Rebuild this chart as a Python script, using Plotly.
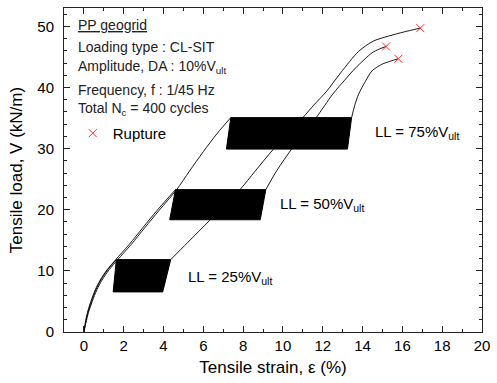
import plotly.graph_objects as go

# ---- Monotonic loading up to the cyclic stage (strain %, load kN/m) ----
strain_ll25_pre = [0, 0.08, 0.2, 0.38, 0.6, 0.85, 1.2, 1.63]
load_ll25_pre = [0, 1.5, 3.2, 5.0, 6.9, 8.5, 10.2, 11.84]

strain_ll50_pre = [0, 0.07, 0.18, 0.35, 0.57, 0.82, 1.17, 1.6, 2.27, 2.97, 3.68, 4.6]
load_ll50_pre = [0, 1.5, 3.2, 5.0, 6.9, 8.5, 10.2, 11.84, 14.3, 17.1, 19.9, 23.29]

strain_ll75_pre = [0, 0.1, 0.23, 0.42, 0.65, 0.91, 1.27, 1.7, 2.37, 3.07, 3.78, 4.66, 5.3, 6.0, 6.7, 7.38]
load_ll75_pre = [0, 1.5, 3.2, 5.0, 6.9, 8.5, 10.2, 11.84, 14.3, 17.1, 19.9, 23.29, 26.3, 29.5, 32.5, 35.07]

# ---- Cyclic loading envelopes (400 cycles), corners of each band ----
strain_ll25_cyc = [1.47, 1.63, 4.36, 3.96, 1.47]
load_ll25_cyc = [6.56, 11.84, 11.84, 6.56, 6.56]

strain_ll50_cyc = [4.31, 4.6, 9.14, 8.86, 4.31]
load_ll50_cyc = [18.36, 23.29, 23.29, 18.36, 18.36]

strain_ll75_cyc = [7.16, 7.38, 13.45, 13.24, 7.16]
load_ll75_cyc = [29.92, 35.07, 35.07, 29.92, 29.92]

# ---- Monotonic reloading after cycling, up to rupture ----
strain_ll25_post = [4.36, 5.2, 6.3, 7.1, 7.87, 8.6, 9.52, 10.3, 11.0, 11.6, 12.2, 12.9,
                    13.8, 14.55, 15.3, 16.1, 16.9]
load_ll25_post = [11.84, 14.6, 18.2, 20.9, 23.4, 26.3, 29.9, 32.6, 35.07, 37.3, 39.4, 42.4,
                  45.9, 47.6, 48.4, 49.1, 49.7]

strain_ll50_post = [9.14, 9.69, 10.43, 11.05, 11.67, 12.5, 13.1, 13.65, 14.47, 14.85, 15.18]
load_ll50_post = [23.29, 26.4, 29.9, 32.5, 35.07, 38.9, 41.2, 43.2, 45.65, 46.3, 46.7]

strain_ll75_post = [13.45, 13.6, 13.8, 14.14, 14.47, 14.97, 15.4, 15.8]
load_ll75_post = [35.07, 37.0, 38.9, 41.0, 42.7, 43.8, 44.3, 44.7]

# ---- Rupture points ----
strain_rupture = [16.9, 15.18, 15.8]
load_rupture = [49.7, 46.7, 44.7]

FONT = "Arial, Liberation Sans, Helvetica, sans-serif"
LINE = dict(color="black", width=0.9, shape="spline", smoothing=0.8)

fig = go.Figure()

for xs, ys in [(strain_ll25_pre, load_ll25_pre), (strain_ll50_pre, load_ll50_pre),
               (strain_ll75_pre, load_ll75_pre), (strain_ll25_post, load_ll25_post),
               (strain_ll50_post, load_ll50_post), (strain_ll75_post, load_ll75_post)]:
    fig.add_trace(go.Scatter(x=xs, y=ys, mode="lines", line=LINE,
                             showlegend=False, hoverinfo="skip"))

for xs, ys in [(strain_ll25_cyc, load_ll25_cyc), (strain_ll50_cyc, load_ll50_cyc),
               (strain_ll75_cyc, load_ll75_cyc)]:
    fig.add_trace(go.Scatter(x=xs, y=ys, mode="lines", fill="toself",
                             fillcolor="black", line=dict(color="black", width=1),
                             showlegend=False, hoverinfo="skip"))

fig.add_trace(go.Scatter(
    x=strain_rupture, y=load_rupture, mode="markers", name="Rupture",
    marker=dict(symbol="x-thin-open", size=8, color="#ff2a2a",
                line=dict(color="#ff2a2a", width=1)),
))

axis_common = dict(
    showline=True, linecolor="#222", linewidth=1, mirror="allticks",
    ticks="inside", ticklen=6, tickwidth=1, tickcolor="#222",
    showgrid=False, zeroline=False,
    tickfont=dict(family=FONT, size=15, color="black"),
)

fig.update_xaxes(
    range=[-1, 20], tick0=0, dtick=2,
    minor=dict(dtick=1, tick0=0, ticks="inside", ticklen=3, tickcolor="#222"),
    title=dict(text="Tensile strain, ε (%)", font=dict(family=FONT, size=17, color="black"),
               standoff=8),
    **axis_common,
)
fig.update_yaxes(
    range=[0, 53], tick0=0, dtick=10,
    minor=dict(dtick=2, tick0=0, ticks="inside", ticklen=3, tickcolor="#222"),
    title=dict(text="Tensile load, V (kN/m)", font=dict(family=FONT, size=17, color="black"),
               standoff=10),
    ticklabelstandoff=6,
    **axis_common,
)

notes = [
    ("<u>PP geogrid</u>", 50.3),
    ("Loading type : CL-SIT", 46.7),
    ("Amplitude, DA : 10%V<sub>ult</sub>", 43.4),
    ("Frequency, f : 1/45 Hz", 39.6),
    ("Total N<sub>c</sub> = 400 cycles", 36.5),
]
for text, y in notes:
    fig.add_annotation(x=-0.41, y=y, text=text, showarrow=False, xanchor="left",
                       yanchor="middle", font=dict(family=FONT, size=14, color="#222"))

for text, x, y in [("LL = 25%V<sub>ult</sub>", 5.15, 8.96),
                   ("LL = 50%V<sub>ult</sub>", 9.74, 20.85),
                   ("LL = 75%V<sub>ult</sub>", 14.54, 32.7)]:
    fig.add_annotation(x=x, y=y, text=text, showarrow=False, xanchor="left",
                       yanchor="middle", font=dict(family=FONT, size=15, color="black"))

fig.update_layout(
    width=497, height=383,
    margin=dict(l=64, r=9, t=7, b=51),
    plot_bgcolor="white", paper_bgcolor="white",
    showlegend=True,
    legend=dict(x=0.021, y=0.613, xanchor="left", yanchor="middle",
                bgcolor="rgba(0,0,0,0)", borderwidth=0,
                font=dict(family=FONT, size=15, color="black")),
)

fig.write_html("out.html")
